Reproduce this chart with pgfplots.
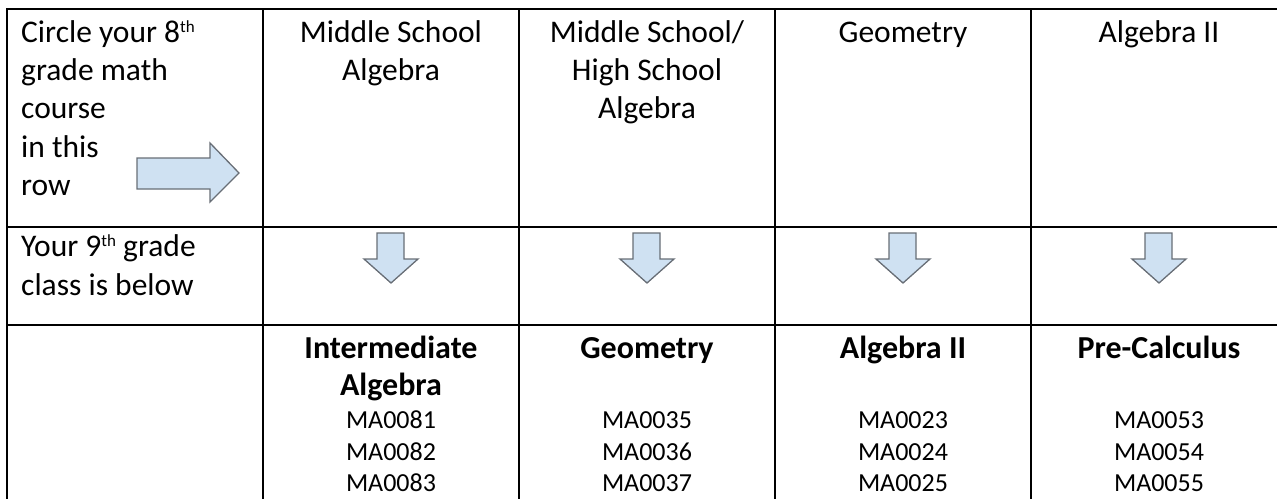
\documentclass[border=0pt]{standalone}
\usepackage{fontspec}
\setmainfont{Carlito}
\usepackage{pgfplots}
\pgfplotsset{compat=1.18}

\definecolor{arrowfill}{RGB}{207,225,242}
\definecolor{arrowedge}{RGB}{104,110,118}
\newcommand{\hdr}{\fontsize{31.5}{38}\selectfont}
\newcommand{\bhdr}{\fontsize{32}{38}\selectfont\bfseries}
\newcommand{\cod}{\fontsize{26}{32}\selectfont}
\newcommand{\ordsup}[1]{\raisebox{0.62ex}{\fontsize{17}{17}\selectfont #1}}

\begin{document}
\begin{tikzpicture}
\begin{axis}[
  width=1277pt, height=498pt, scale only axis,
  xmin=0, xmax=1277, ymin=0, ymax=498,
  y dir=reverse, hide axis, clip=false,
]
% table rules
\addplot[black, line width=2.5pt, line cap=rect] coordinates {(7,9) (1282,9)};
\addplot[black, line width=2.5pt, line cap=rect] coordinates {(7,227) (1282,227)};
\addplot[black, line width=2.5pt, line cap=rect] coordinates {(7,325) (1282,325)};
\addplot[black, line width=2.5pt, line cap=rect] coordinates {(7,9) (7,502)};
\addplot[black, line width=2.5pt, line cap=rect] coordinates {(263,9) (263,502)};
\addplot[black, line width=2.5pt, line cap=rect] coordinates {(519,9) (519,502)};
\addplot[black, line width=2.5pt, line cap=rect] coordinates {(775,9) (775,502)};
\addplot[black, line width=2.5pt, line cap=rect] coordinates {(1031,9) (1031,502)};

% right arrow in first cell
\addplot[fill=arrowfill, draw=arrowedge, line width=1.3pt, line join=miter] coordinates {
  (137,158) (210,158) (210,143) (239,173) (210,202) (210,189) (137,189)} -- cycle;

% down arrows
\addplot[fill=arrowfill, draw=arrowedge, line width=1.3pt] coordinates {
  (377,233) (404,233) (404,259) (418,259) (391,283) (364,259) (377,259)} -- cycle;
\addplot[fill=arrowfill, draw=arrowedge, line width=1.3pt] coordinates {
  (633,233) (660,233) (660,259) (674,259) (647,283) (620,259) (633,259)} -- cycle;
\addplot[fill=arrowfill, draw=arrowedge, line width=1.3pt] coordinates {
  (889,233) (916,233) (916,259) (930,259) (903,283) (876,259) (889,259)} -- cycle;
\addplot[fill=arrowfill, draw=arrowedge, line width=1.3pt] coordinates {
  (1145,233) (1172,233) (1172,259) (1186,259) (1159,283) (1132,259) (1145,259)} -- cycle;

% first column text
\node[anchor=base west, font=\hdr, inner sep=0] at (axis cs:21,42) {Circle your 8\ordsup{th}};
\node[anchor=base west, font=\hdr, inner sep=0] at (axis cs:21,80) {grade math};
\node[anchor=base west, font=\hdr, inner sep=0] at (axis cs:21,118) {course};
\node[anchor=base west, font=\hdr, inner sep=0] at (axis cs:21,157) {in this};
\node[anchor=base west, font=\hdr, inner sep=0] at (axis cs:21,195) {row};
\node[anchor=base west, font=\hdr, inner sep=0] at (axis cs:21,256) {Your 9\ordsup{th} grade};
\node[anchor=base west, font=\hdr, inner sep=0] at (axis cs:21,295) {class is below};

% header row
\node[anchor=base, font=\hdr, inner sep=0] at (axis cs:391,42) {Middle School};
\node[anchor=base, font=\hdr, inner sep=0] at (axis cs:391,80) {Algebra};
\node[anchor=base, font=\hdr, inner sep=0] at (axis cs:647,42) {Middle School/};
\node[anchor=base, font=\hdr, inner sep=0] at (axis cs:647,80) {High School};
\node[anchor=base, font=\hdr, inner sep=0] at (axis cs:647,118) {Algebra};
\node[anchor=base, font=\hdr, inner sep=0] at (axis cs:903,42) {Geometry};
\node[anchor=base, font=\hdr, inner sep=0] at (axis cs:1159,42) {Algebra II};

% ninth grade classes
\node[anchor=base, font=\bhdr, inner sep=0] at (axis cs:391,358) {Intermediate};
\node[anchor=base, font=\bhdr, inner sep=0] at (axis cs:391,395) {Algebra};
\node[anchor=base, font=\bhdr, inner sep=0] at (axis cs:647,358) {Geometry};
\node[anchor=base, font=\bhdr, inner sep=0] at (axis cs:903,358) {Algebra II};
\node[anchor=base, font=\bhdr, inner sep=0] at (axis cs:1159,358) {Pre-Calculus};

% course codes
\node[anchor=base, font=\cod, inner sep=0] at (axis cs:391,428) {MA0081};
\node[anchor=base, font=\cod, inner sep=0] at (axis cs:391,460) {MA0082};
\node[anchor=base, font=\cod, inner sep=0] at (axis cs:391,491) {MA0083};
\node[anchor=base, font=\cod, inner sep=0] at (axis cs:647,428) {MA0035};
\node[anchor=base, font=\cod, inner sep=0] at (axis cs:647,460) {MA0036};
\node[anchor=base, font=\cod, inner sep=0] at (axis cs:647,491) {MA0037};
\node[anchor=base, font=\cod, inner sep=0] at (axis cs:903,428) {MA0023};
\node[anchor=base, font=\cod, inner sep=0] at (axis cs:903,460) {MA0024};
\node[anchor=base, font=\cod, inner sep=0] at (axis cs:903,491) {MA0025};
\node[anchor=base, font=\cod, inner sep=0] at (axis cs:1159,428) {MA0053};
\node[anchor=base, font=\cod, inner sep=0] at (axis cs:1159,460) {MA0054};
\node[anchor=base, font=\cod, inner sep=0] at (axis cs:1159,491) {MA0055};
\end{axis}
\pgfresetboundingbox
\path (current axis.south west) rectangle (current axis.north east);
\end{tikzpicture}
\end{document}
